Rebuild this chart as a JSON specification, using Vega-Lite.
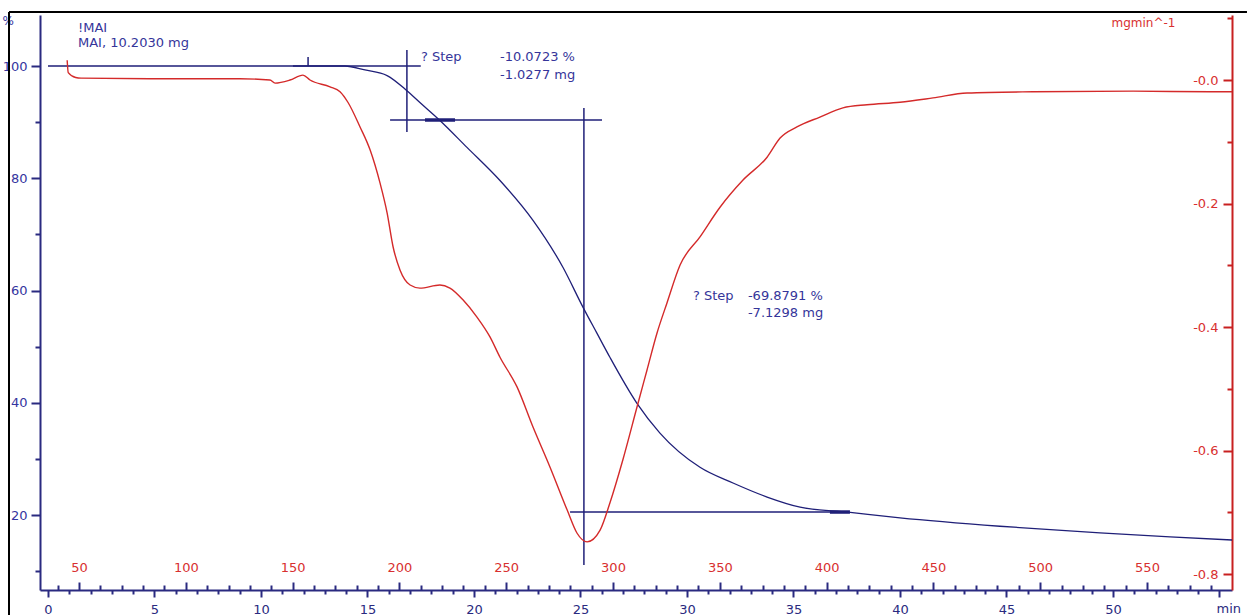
{
  "$schema": "https://vega.github.io/schema/vega-lite/v6.json",
  "width": 1192,
  "height": 575,
  "autosize": {"type": "none"},
  "padding": {"left": 40, "top": 15, "right": 15, "bottom": 25},
  "background": "white",
  "config": {"view": {"stroke": null}, "font": "DejaVu Sans", "axis": {"grid": false}},
  "datasets": {
    "tg": [
      {"t": 0.0, "pct": 100}, {"t": 5.0, "pct": 100}, {"t": 10.0, "pct": 100}, {"t": 13.94, "pct": 100},
      {"t": 14.88, "pct": 99.3}, {"t": 15.92, "pct": 98.3}, {"t": 16.85, "pct": 95.6}, {"t": 17.46, "pct": 93.5},
      {"t": 18.40, "pct": 90.3}, {"t": 19.67, "pct": 85.5}, {"t": 21.22, "pct": 79.6}, {"t": 22.77, "pct": 72.5},
      {"t": 24.18, "pct": 64.1}, {"t": 25.12, "pct": 57.0}, {"t": 25.77, "pct": 52.4}, {"t": 26.38, "pct": 48.1},
      {"t": 27.65, "pct": 39.9}, {"t": 28.73, "pct": 34.6}, {"t": 30.61, "pct": 28.5}, {"t": 32.16, "pct": 25.7},
      {"t": 33.76, "pct": 23.2}, {"t": 35.31, "pct": 21.4}, {"t": 37.56, "pct": 20.5}, {"t": 40.0, "pct": 19.5},
      {"t": 44.69, "pct": 18.0}, {"t": 49.39, "pct": 16.8}, {"t": 52.68, "pct": 16.1}, {"t": 55.59, "pct": 15.55}
    ],
    "dtg": [
      {"t": 0.90, "d": 0.032}, {"t": 0.95, "d": 0.012}, {"t": 1.30, "d": 0.004}, {"t": 1.55, "d": 0.003},
      {"t": 4.79, "d": 0.002}, {"t": 9.01, "d": 0.002}, {"t": 10.42, "d": 0.0}, {"t": 10.66, "d": -0.005},
      {"t": 11.36, "d": 0.0}, {"t": 11.97, "d": 0.008}, {"t": 12.3, "d": 0.0}, {"t": 13.24, "d": -0.011},
      {"t": 13.71, "d": -0.019}, {"t": 14.08, "d": -0.036}, {"t": 14.65, "d": -0.076}, {"t": 15.12, "d": -0.113},
      {"t": 15.59, "d": -0.167}, {"t": 15.92, "d": -0.215}, {"t": 16.20, "d": -0.270}, {"t": 16.53, "d": -0.308},
      {"t": 17.00, "d": -0.332}, {"t": 17.46, "d": -0.337}, {"t": 18.40, "d": -0.332}, {"t": 18.87, "d": -0.337},
      {"t": 19.48, "d": -0.356}, {"t": 20.14, "d": -0.384}, {"t": 20.75, "d": -0.416}, {"t": 21.22, "d": -0.449},
      {"t": 22.02, "d": -0.497}, {"t": 22.77, "d": -0.562}, {"t": 23.57, "d": -0.627}, {"t": 24.37, "d": -0.696},
      {"t": 24.84, "d": -0.734}, {"t": 25.31, "d": -0.748}, {"t": 25.92, "d": -0.729}, {"t": 26.38, "d": -0.685},
      {"t": 26.99, "d": -0.615}, {"t": 27.65, "d": -0.530}, {"t": 28.12, "d": -0.470}, {"t": 28.59, "d": -0.410},
      {"t": 29.06, "d": -0.361}, {"t": 29.67, "d": -0.300}, {"t": 30.61, "d": -0.254}, {"t": 31.55, "d": -0.206},
      {"t": 32.63, "d": -0.162}, {"t": 33.76, "d": -0.125}, {"t": 34.37, "d": -0.094}, {"t": 35.16, "d": -0.076},
      {"t": 36.24, "d": -0.060}, {"t": 37.32, "d": -0.045}, {"t": 38.45, "d": -0.040}, {"t": 40.0, "d": -0.036},
      {"t": 41.55, "d": -0.029}, {"t": 43.15, "d": -0.021}, {"t": 46.24, "d": -0.019}, {"t": 50.94, "d": -0.018},
      {"t": 54.55, "d": -0.019}, {"t": 55.59, "d": -0.019}
    ],
    "guides": [
      {"t1": 16.85, "t2": 16.85, "p1": 102.85, "p2": 88.24, "w": "thin"},
      {"t1": 16.06, "t2": 26.01, "p1": 90.38, "p2": 90.38, "w": "thin"},
      {"t1": 11.5, "t2": 17.5, "p1": 100, "p2": 100, "w": "thin"},
      {"t1": 25.16, "t2": 25.16, "p1": 92.52, "p2": 11.09, "w": "thin"},
      {"t1": 24.51, "t2": 37.56, "p1": 20.53, "p2": 20.53, "w": "thin"},
      {"t1": 12.21, "t2": 12.21, "p1": 100, "p2": 101.6, "w": "thin"},
      {"t1": 17.70, "t2": 19.11, "p1": 90.38, "p2": 90.38, "w": "thick"},
      {"t1": 36.71, "t2": 37.65, "p1": 20.53, "p2": 20.53, "w": "thick"}
    ],
    "frame": [
      {"t1": -1.831, "t2": -1.831, "p1": 2.18, "p2": 109.62},
      {"t1": -1.831, "t2": 56.29, "p1": 109.62, "p2": 109.62}
    ],
    "notes": [
      {"t": 1.408, "pct": 106.77, "label": "!MAI"},
      {"t": 1.408, "pct": 104.10, "label": "MAI, 10.2030 mg"},
      {"t": 17.51, "pct": 101.6, "label": "? Step"},
      {"t": 21.22, "pct": 101.6, "label": "-10.0723 %"},
      {"t": 21.22, "pct": 98.40, "label": "-1.0277 mg"},
      {"t": 30.28, "pct": 59.02, "label": "? Step"},
      {"t": 32.86, "pct": 59.02, "label": "-69.8791 %"},
      {"t": 32.86, "pct": 55.99, "label": "-7.1298 mg"}
    ]
  },
  "layer": [
    {
      "data": {"name": "frame"},
      "mark": {"type": "rule", "color": "#000000", "strokeWidth": 2, "clip": false},
      "encoding": {
        "x": {"field": "t1", "type": "quantitative", "scale": {"domain": [-0.3756, 55.587], "nice": false, "zero": false}, "axis": null},
        "x2": {"field": "t2"},
        "y": {"field": "p1", "type": "quantitative", "scale": {"domain": [6.637, 109.09], "nice": false, "zero": false}, "axis": null},
        "y2": {"field": "p2"}
      }
    },
    {
      "data": {"name": "tg"},
      "mark": {"type": "line", "color": "#1f1f78", "strokeWidth": 1.3, "interpolate": "monotone"},
      "encoding": {
        "x": {
          "field": "t", "type": "quantitative",
          "scale": {"domain": [-0.3756, 55.587], "nice": false, "zero": false},
          "axis": {
            "orient": "bottom",
            "values": [0,1,2,3,4,5,6,7,8,9,10,11,12,13,14,15,16,17,18,19,20,21,22,23,24,25,26,27,28,29,30,31,32,33,34,35,36,37,38,39,40,41,42,43,44,45,46,47,48,49,50,51,52,53,54,55],
            "labelExpr": "datum.value % 5 == 0 && datum.value < 55 ? datum.label : ''",
            "tickSize": {"condition": {"test": "datum.value % 5 == 0", "value": 7}, "value": 4},
            "tickColor": "#2a2a80", "tickWidth": 2,
            "domainColor": "#2a2a80", "domainWidth": 2,
            "labelColor": "#2a2a80", "labelFontSize": 13, "labelPadding": 6,
            "labelOverlap": false, "labelFlush": false, "labelBaseline": "top",
            "title": "min", "titleColor": "#2a2a80", "titleFontWeight": "normal", "titleFontSize": 13,
            "titleX": 1176, "titleY": 12, "titleAlign": "left", "titleBaseline": "top"
          }
        },
        "y": {
          "field": "pct", "type": "quantitative",
          "scale": {"domain": [6.637, 109.09], "nice": false, "zero": false},
          "axis": {
            "orient": "left",
            "values": [10,20,30,40,50,60,70,80,90,100],
            "labelExpr": "datum.value % 20 == 0 ? datum.label : ''",
            "tickSize": {"condition": {"test": "datum.value % 20 == 0", "value": 9}, "value": 5},
            "tickColor": "#2a2a80", "tickWidth": 2,
            "domainColor": "#2a2a80", "domainWidth": 2,
            "labelColor": "#3535a0", "labelFontSize": 13, "labelPadding": 4, "labelOverlap": false,
            "title": "%", "titleColor": "#3535a0", "titleFontWeight": "normal", "titleFontSize": 12,
            "titleAngle": 0, "titleX": -38, "titleY": 5, "titleAlign": "left", "titleBaseline": "middle"
          }
        }
      }
    },
    {
      "data": {"name": "guides"},
      "mark": {"type": "rule", "color": "#1f1f78", "clip": false},
      "encoding": {
        "x": {"field": "t1", "type": "quantitative", "scale": {"domain": [-0.3756, 55.587], "nice": false, "zero": false}, "axis": null},
        "x2": {"field": "t2"},
        "y": {"field": "p1", "type": "quantitative", "scale": {"domain": [6.637, 109.09], "nice": false, "zero": false}, "axis": null},
        "y2": {"field": "p2"},
        "strokeWidth": {"field": "w", "type": "nominal", "scale": {"domain": ["thin", "thick"], "range": [1.5, 3.5]}, "legend": null}
      }
    },
    {
      "data": {"name": "notes"},
      "mark": {"type": "text", "align": "left", "baseline": "middle", "fontSize": 13, "color": "#35359a"},
      "encoding": {
        "x": {"field": "t", "type": "quantitative", "scale": {"domain": [-0.3756, 55.587], "nice": false, "zero": false}, "axis": null},
        "y": {"field": "pct", "type": "quantitative", "scale": {"domain": [6.637, 109.09], "nice": false, "zero": false}, "axis": null},
        "text": {"field": "label"}
      }
    },
    {
      "data": {"name": "dtg"},
      "mark": {"type": "line", "color": "#d42a2a", "strokeWidth": 1.4, "interpolate": "monotone"},
      "encoding": {
        "x": {
          "field": "t", "type": "quantitative",
          "scale": {"domain": [-0.3756, 55.587], "nice": false, "zero": false},
          "axis": {
            "orient": "top", "offset": -575, "domain": false,
            "values": [0.452,1.455,2.458,3.461,4.464,5.466,6.469,7.472,8.475,9.478,10.481,11.483,12.486,13.489,14.492,15.495,16.498,17.500,18.503,19.506,20.509,21.512,22.514,23.517,24.520,25.523,26.526,27.528,28.531,29.534,30.537,31.540,32.542,33.545,34.548,35.551,36.554,37.557,38.559,39.562,40.565,41.568,42.570,43.573,44.576,45.579,46.582,47.584,48.587,49.590,50.593,51.596,52.599,53.601,54.604],
            "labelExpr": "round(35.49 + 9.972 * datum.value) % 50 == 0 ? format(round(35.49 + 9.972 * datum.value), 'd') : ''",
            "tickSize": {"condition": {"test": "round(35.49 + 9.972 * datum.value) % 50 == 0", "value": 8}, "value": 5},
            "tickColor": "#2a2a80", "tickWidth": 2,
            "labelColor": "#d83030", "labelFontSize": 13, "labelPadding": 8,
            "labelOverlap": false, "labelFlush": false,
            "title": null
          }
        },
        "y": {
          "field": "d", "type": "quantitative",
          "scale": {"domain": [-0.8259, 0.1053], "nice": false, "zero": false},
          "axis": {
            "orient": "left", "offset": -1192,
            "values": [-0.8,-0.7,-0.6,-0.5,-0.4,-0.3,-0.2,-0.1,0,0.1],
            "labelExpr": "round(datum.value * 10) % 2 != 0 || datum.value > 0.05 ? '' : '-' + format(abs(datum.value), '.1f')",
            "tickSize": {"condition": {"test": "round(datum.value * 10) % 2 == 0", "value": 9}, "value": 5},
            "tickColor": "#c82020", "tickWidth": 2,
            "domainColor": "#c82020", "domainWidth": 2,
            "labelColor": "#d83030", "labelFontSize": 13, "labelPadding": 5, "labelOverlap": false,
            "title": "mgmin^-1", "titleColor": "#d83030", "titleFontWeight": "normal", "titleFontSize": 12,
            "titleAngle": 0, "titleX": -57, "titleY": 7, "titleAlign": "right", "titleBaseline": "middle"
          }
        }
      }
    }
  ],
  "resolve": {"scale": {"y": "independent"}, "axis": {"x": "independent", "y": "independent"}}
}
